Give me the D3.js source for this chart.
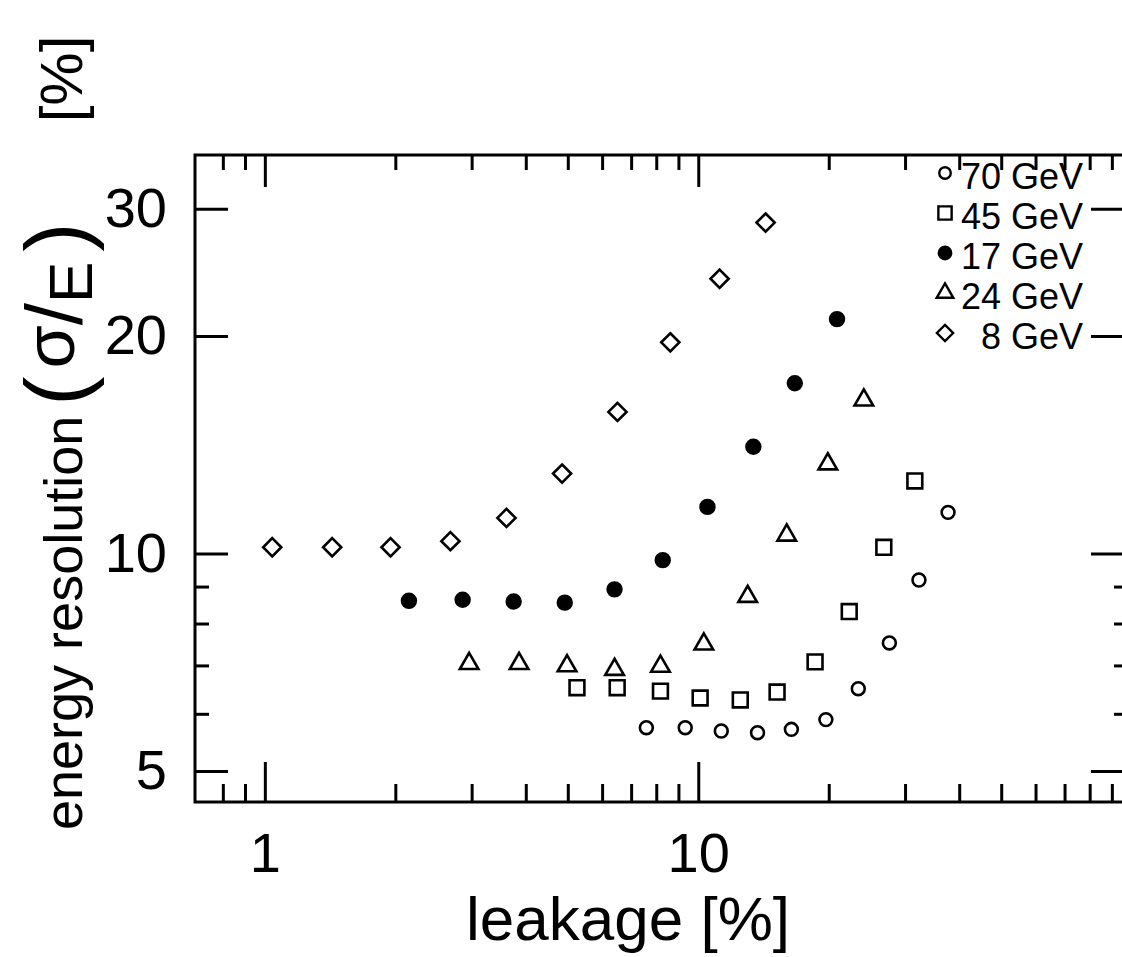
<!DOCTYPE html>
<html>
<head>
<meta charset="utf-8">
<script src="https://cdn.jsdelivr.net/npm/d3@7"></script>
<style>
  body { margin: 0; background: #fff; }
  svg { display: block; }
</style>
</head>
<body>
<div id="chart"></div>
<script>
// energy resolution vs leakage, one series per beam energy (log-log)

var leak70 = [7.59, 9.33, 11.3, 13.7, 16.4, 19.7, 23.4, 27.6, 32.3, 37.7];
var res70  = [5.74, 5.74, 5.68, 5.65, 5.71, 5.89, 6.50, 7.52, 9.19, 11.4];

var leak45 = [5.25, 6.50, 8.18, 10.1, 12.5, 15.2, 18.6, 22.3, 26.8, 31.6];
var res45  = [6.52, 6.52, 6.45, 6.31, 6.27, 6.43, 7.08, 8.31, 10.2, 12.6];

var leak17 = [2.15, 2.86, 3.75, 4.92, 6.41, 8.28, 10.5, 13.4, 16.7, 20.9];
var res17  = [8.60, 8.63, 8.58, 8.55, 8.92, 9.79, 11.6, 14.05, 17.2, 21.1];

var leak24 = [2.96, 3.86, 4.98, 6.41, 8.18, 10.3, 13.0, 16.0, 19.9, 24.1];
var res24  = [7.04, 7.04, 6.99, 6.91, 6.98, 7.49, 8.72, 10.6, 13.3, 16.3];

var leak8 = [1.04, 1.43, 1.95, 2.68, 3.61, 4.85, 6.51, 8.62, 11.2, 14.3];
var res8  = [10.2, 10.2, 10.2, 10.4, 11.2, 12.9, 15.7, 19.6, 24.0, 28.7];

var legendLabels = ["70 GeV", "45 GeV", "17 GeV", "24 GeV", "8 GeV"];

var xMajor = [1, 10];
var xMinor = [0.8, 0.9, 2, 3, 4, 5, 6, 7, 8, 9, 20, 30, 40, 50, 60, 70, 80, 90];
var yMajor = [5, 10, 20, 30];
var yMinor = [6, 7, 8, 9];

var width = 1122;
var height = 957;
var font = "'Liberation Sans', Arial, sans-serif";

// marker style for each series, same order as the legend
var series = [
  {x: leak70, y: res70, type: d3.symbolCircle,   size: 130, fill: "#fff"},
  {x: leak45, y: res45, type: d3.symbolSquare,   size: 220, fill: "#fff"},
  {x: leak17, y: res17, type: d3.symbolCircle,   size: 150, fill: "#000"},
  {x: leak24, y: res24, type: d3.symbolTriangle, size: 150, fill: "#fff"},
  {x: leak8,  y: res8,  type: d3.symbolDiamond2, size: 210, fill: "#fff"}
];

var x = d3.scaleLog()
    .domain([0.69, 96])
    .range([195, 1124]);

var y = d3.scaleLog()
    .domain([4.53, 35.6])
    .range([802, 155]);

var svg = d3.select("#chart")
  .append("svg")
  .attr("width", width)
  .attr("height", height)
  .attr("font-family", font);

// axes: ticks point into the frame on all four sides
function sideAxis(axis, values, len, labelled) {
  return axis
    .tickValues(values)
    .tickSize(-len)
    .tickSizeOuter(0)
    .tickFormat(labelled ? d3.format("d") : "");
}

function drawAxis(g, axis, fontSize) {
  g.call(axis);
  g.select(".domain").remove();
  g.attr("font-family", font).attr("font-size", fontSize || 10);
  g.selectAll("line").attr("stroke", "#000").attr("stroke-width", 3);
  g.selectAll("text").attr("fill", "#000");
}

var x0 = x.range()[0], x1 = x.range()[1];
var y0 = y.range()[0], y1 = y.range()[1];

// bottom
svg.append("g").attr("transform", `translate(0,${y0})`)
  .call(drawAxis, sideAxis(d3.axisBottom(x), xMinor, 18, false));
svg.append("g").attr("transform", `translate(0,${y0})`)
  .call(drawAxis, sideAxis(d3.axisBottom(x), xMajor, 40, true).tickPadding(30), 56);

// top
svg.append("g").attr("transform", `translate(0,${y1})`)
  .call(drawAxis, sideAxis(d3.axisTop(x), xMinor, 15, false));
svg.append("g").attr("transform", `translate(0,${y1})`)
  .call(drawAxis, sideAxis(d3.axisTop(x), xMajor, 32, false));

// left
svg.append("g").attr("transform", `translate(${x0},0)`)
  .call(drawAxis, sideAxis(d3.axisLeft(y), yMinor, 14, false));
svg.append("g").attr("transform", `translate(${x0},0)`)
  .call(drawAxis, sideAxis(d3.axisLeft(y), yMajor, 33, true).tickPadding(28), 56);

// right
svg.append("g").attr("transform", `translate(${x1},0)`)
  .call(drawAxis, sideAxis(d3.axisRight(y), yMinor, 10, false));
svg.append("g").attr("transform", `translate(${x1},0)`)
  .call(drawAxis, sideAxis(d3.axisRight(y), yMajor, 33, false));

// frame
svg.append("rect")
    .attr("x", x0)
    .attr("y", y1)
    .attr("width", x1 - x0)
    .attr("height", y0 - y1)
    .attr("fill", "none")
    .attr("stroke", "#000")
    .attr("stroke-width", 3);

// points
series.forEach(s => {
  var sym = d3.symbol().type(s.type).size(s.size);
  svg.append("g")
    .selectAll("path")
    .data(d3.zip(s.x, s.y))
    .join("path")
      .attr("transform", d => `translate(${x(d[0])},${y(d[1])})`)
      .attr("d", sym)
      .attr("fill", s.fill)
      .attr("stroke", "#000")
      .attr("stroke-width", 2.6);
});

// legend, top right inside the frame
var legend = svg.append("g")
    .selectAll("g")
    .data(series)
    .join("g")
      .attr("transform", (d, i) => `translate(945,${176 + i * 40})`);

legend.append("path")
    .attr("transform", "translate(0,-3)")
    .attr("d", d => d3.symbol().type(d.type).size(d.size * 0.8)())
    .attr("fill", d => d.fill)
    .attr("stroke", "#000")
    .attr("stroke-width", 2.4);

legend.append("text")
    .attr("x", 138)
    .attr("y", 13)
    .attr("text-anchor", "end")
    .attr("font-size", 36)
    .text((d, i) => legendLabels[i]);

// axis titles
svg.append("text")
    .attr("x", 628)
    .attr("y", 940)
    .attr("text-anchor", "middle")
    .attr("font-size", 62)
    .text("leakage [%]");

var ylab = svg.append("text")
    .attr("transform", "translate(82,830) rotate(-90)")
    .attr("text-anchor", "start")
    .attr("font-size", 54);

ylab.append("tspan").text("energy resolution");
ylab.append("tspan").attr("font-size", 88).attr("dx", 10).attr("dy", 4).text("(");
ylab.append("tspan").attr("font-size", 70).attr("dx", 8).attr("dy", -12).text("σ");
ylab.append("tspan").attr("font-size", 80).attr("dy", 8).text("/");
ylab.append("tspan").attr("font-size", 62).attr("dy", 10).text("E");
ylab.append("tspan").attr("font-size", 88).attr("dx", 10).attr("dy", -6).text(")");
ylab.append("tspan").attr("font-size", 60).attr("dx", 100).attr("dy", -4).text("[%]");
</script>
</body>
</html>
